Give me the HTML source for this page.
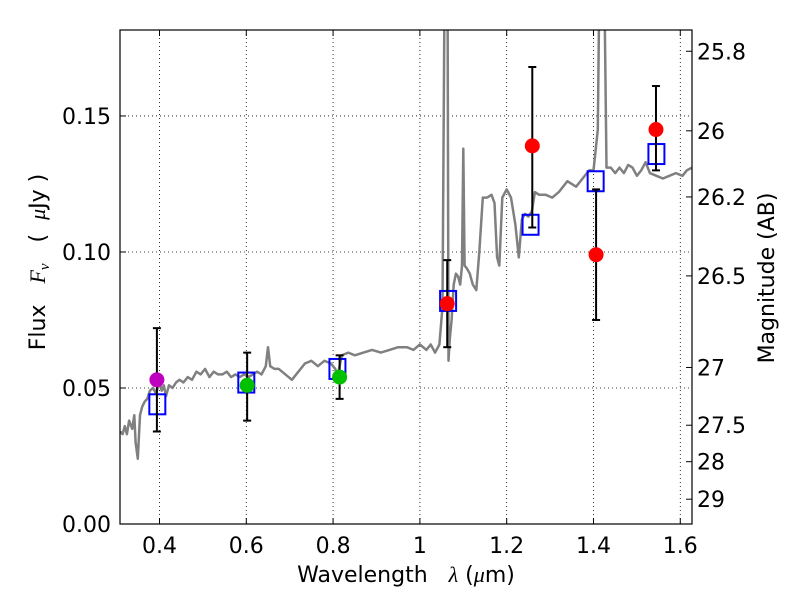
<!DOCTYPE html>
<html><head><meta charset="utf-8"><style>
html,body{margin:0;padding:0;background:#fff;}
svg{display:block;font-family:"DejaVu Sans","Liberation Sans",sans-serif;}
text{white-space:pre;}
</style></head><body>
<svg id="chart" width="800" height="600" viewBox="0 0 800 600" xmlns="http://www.w3.org/2000/svg"></svg>
<script>
// ---- data ----
const xTicks = [0.4, 0.6, 0.8, 1.0, 1.2, 1.4, 1.6];
const xTickLabels = ["0.4", "0.6", "0.8", "1", "1.2", "1.4", "1.6"];
const yTicks = [0, 0.05, 0.10, 0.15];
const yTickLabels = ["0.00", "0.05", "0.10", "0.15"];
const magTicks = [25.8, 26, 26.2, 26.5, 27, 27.5, 28, 29];
const magTickLabels = ["25.8", "26", "26.2", "26.5", "27", "27.5", "28", "29"];
const specLam = [0.310,0.315,0.320,0.325,0.330,0.337,0.342,0.345,0.350,0.355,0.360,0.366,0.372,0.378,0.385,0.392,0.400,0.405,0.410,0.415,0.422,0.430,0.438,0.446,0.455,0.465,0.475,0.485,0.495,0.505,0.515,0.525,0.535,0.545,0.555,0.565,0.575,0.585,0.595,0.605,0.615,0.625,0.635,0.645,0.650,0.655,0.665,0.675,0.690,0.705,0.720,0.735,0.750,0.765,0.780,0.795,0.805,0.810,0.820,0.835,0.850,0.870,0.890,0.910,0.930,0.950,0.970,0.985,1.000,1.015,1.025,1.035,1.045,1.052,1.057,1.060,1.063,1.066,1.069,1.073,1.078,1.083,1.088,1.093,1.097,1.100,1.103,1.108,1.115,1.122,1.130,1.137,1.145,1.155,1.165,1.172,1.178,1.183,1.190,1.200,1.210,1.220,1.228,1.235,1.242,1.250,1.258,1.265,1.275,1.290,1.305,1.320,1.340,1.360,1.375,1.390,1.400,1.410,1.415,1.420,1.425,1.430,1.440,1.450,1.460,1.470,1.480,1.490,1.500,1.510,1.520,1.530,1.545,1.560,1.575,1.590,1.605,1.615,1.627];
const specFlux = [0.034,0.033,0.036,0.033,0.038,0.035,0.040,0.030,0.024,0.040,0.043,0.045,0.046,0.049,0.050,0.048,0.052,0.049,0.051,0.047,0.051,0.050,0.052,0.053,0.052,0.054,0.053,0.056,0.055,0.057,0.054,0.056,0.055,0.055,0.056,0.054,0.055,0.054,0.055,0.054,0.055,0.056,0.055,0.058,0.065,0.058,0.057,0.057,0.055,0.053,0.056,0.059,0.060,0.058,0.060,0.059,0.057,0.054,0.062,0.063,0.062,0.063,0.064,0.063,0.064,0.065,0.065,0.064,0.066,0.064,0.066,0.063,0.066,0.080,0.200,0.300,0.250,0.060,0.068,0.075,0.088,0.092,0.091,0.088,0.095,0.138,0.095,0.094,0.092,0.088,0.086,0.100,0.120,0.120,0.121,0.118,0.098,0.095,0.120,0.123,0.120,0.110,0.098,0.112,0.114,0.113,0.115,0.122,0.121,0.121,0.120,0.122,0.126,0.124,0.127,0.130,0.130,0.145,0.220,0.300,0.200,0.131,0.131,0.129,0.131,0.129,0.132,0.131,0.128,0.130,0.133,0.129,0.128,0.127,0.128,0.129,0.128,0.130,0.131];
const modelLam = [0.395, 0.600, 0.810, 1.065, 1.255, 1.405, 1.545];
const modelFlux = [0.044, 0.052, 0.057, 0.082, 0.110, 0.126, 0.136];
const obsLam = [0.394, 0.602, 0.815, 1.063, 1.259, 1.406, 1.544];
const obsFlux = [0.053, 0.051, 0.054, 0.081, 0.139, 0.099, 0.145];
const obsLo = [0.034, 0.038, 0.046, 0.065, 0.109, 0.075, 0.130];
const obsHi = [0.072, 0.063, 0.062, 0.097, 0.168, 0.123, 0.161];
const obsColor = ["#bf00bf", "#00c000", "#00c000", "#ff0000", "#ff0000", "#ff0000", "#ff0000"];

// ---- axes ----
const L = 120, R = 692, T = 30, B = 524;
const xMin = 0.309, xMax = 1.627, yMin = 0, yMax = 0.1816;
const xs = v => L + (v - xMin) / (xMax - xMin) * (R - L);
const ys = v => B - (v - yMin) / (yMax - yMin) * (B - T);
const magToFlux = m => Math.pow(10, (23.9 - m) / 2.5);

const svg = document.getElementById('chart');
const NS = 'http://www.w3.org/2000/svg';
function mk(tag, attrs, parent) {
  const e = document.createElementNS(NS, tag);
  for (const k in attrs) e.setAttribute(k, attrs[k]);
  (parent || svg).appendChild(e);
  return e;
}

const defs = mk('defs', {});
const cp = mk('clipPath', {id: 'plotclip'}, defs);
mk('rect', {x: L, y: T, width: R - L, height: B - T}, cp);

// grid
const grid = mk('g', {stroke: '#000', 'stroke-width': 0.8, 'stroke-dasharray': '1,3'});


xTicks.forEach(v => mk('line', {x1: xs(v), x2: xs(v), y1: T, y2: B}, grid));
yTicks.forEach(v => mk('line', {x1: L, x2: R, y1: ys(v), y2: ys(v)}, grid));

const plot = mk('g', {'clip-path': 'url(#plotclip)'});



// spectrum
let d = specLam.map((l, i) => (i ? 'L' : 'M') + xs(l).toFixed(1) + ',' + ys(specFlux[i]).toFixed(1)).join(' ');
const spec = mk('path', {d: d, fill: 'none', stroke: '#808080', 'stroke-width': 2.5, 'stroke-linejoin': 'round'}, plot);



// model squares
modelLam.forEach((l, i) => {
  const r = mk('rect', {x: xs(l) - 8, y: ys(modelFlux[i]) - 10, width: 16, height: 20, fill: 'none', stroke: '#0000ff', 'stroke-width': 2}, plot);
  
  
});

// error bars + points
obsLam.forEach((l, i) => {
  const g = mk('g', {}, plot);
  
  
  const x = xs(l);
  mk('line', {x1: x, x2: x, y1: ys(obsLo[i]), y2: ys(obsHi[i]), stroke: '#000', 'stroke-width': 2}, g);
  mk('line', {x1: x - 4, x2: x + 4, y1: ys(obsLo[i]), y2: ys(obsLo[i]), stroke: '#000', 'stroke-width': 2}, g);
  mk('line', {x1: x - 4, x2: x + 4, y1: ys(obsHi[i]), y2: ys(obsHi[i]), stroke: '#000', 'stroke-width': 2}, g);
  mk('circle', {cx: x, cy: ys(obsFlux[i]), r: 7.5, fill: obsColor[i]}, g);
});

// frame
const frame = mk('rect', {x: L, y: T, width: R - L, height: B - T, fill: 'none', stroke: '#000', 'stroke-width': 1.2});



// x ticks
const xax = mk('g', {'font-size': 22, 'text-anchor': 'middle'});


xTicks.forEach((v, i) => {
  mk('line', {x1: xs(v), x2: xs(v), y1: B, y2: B - 6, stroke: '#000'}, xax);
  mk('line', {x1: xs(v), x2: xs(v), y1: T, y2: T + 6, stroke: '#000'}, xax);
  const t = mk('text', {x: xs(v), y: B + 29}, xax);
  t.textContent = xTickLabels[i];
});
// y ticks
const yax = mk('g', {'font-size': 22, 'text-anchor': 'end'});


yTicks.forEach((v, i) => {
  mk('line', {x1: L, x2: L + 6, y1: ys(v), y2: ys(v), stroke: '#000'}, yax);
  const t = mk('text', {x: L - 9, y: ys(v) + 8}, yax);
  t.textContent = yTickLabels[i];
});
// right mag ticks
const rax = mk('g', {'font-size': 22, 'text-anchor': 'start'});


magTicks.forEach((m, i) => {
  const y = ys(magToFlux(m));
  mk('line', {x1: R - 6, x2: R, y1: y, y2: y, stroke: '#000'}, rax);
  const t = mk('text', {x: R + 5, y: y + 8}, rax);
  t.textContent = magTickLabels[i];
});

// axis titles
const xt = mk('text', {x: 406, y: 582, 'font-size': 22, 'text-anchor': 'middle'});


xt.innerHTML = 'Wavelength   <tspan font-family="Liberation Serif, serif" font-style="italic">λ</tspan> (<tspan font-family="Liberation Serif, serif" font-style="italic">μ</tspan>m)';

const yt = mk('text', {x: 0, y: 0, 'font-size': 22, 'text-anchor': 'middle', transform: 'translate(45,262) rotate(-90)'});


yt.innerHTML = 'Flux   <tspan font-family="Liberation Serif, serif" font-style="italic">F<tspan font-size="15" dy="4">ν</tspan></tspan><tspan dy="-4">   (  </tspan><tspan font-family="Liberation Serif, serif" font-style="italic">μ</tspan>Jy )';

const rt = mk('text', {x: 0, y: 0, 'font-size': 22, 'text-anchor': 'middle', transform: 'translate(774,278) rotate(-90)'});


rt.textContent = 'Magnitude (AB)';
</script>
</body></html>
